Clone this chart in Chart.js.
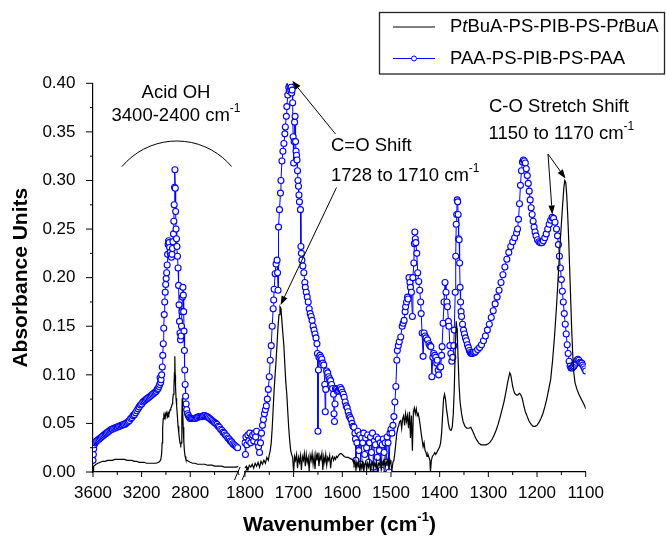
<!DOCTYPE html>
<html><head><meta charset="utf-8">
<script src="https://cdn.jsdelivr.net/npm/chart.js@4.4.1/dist/chart.umd.min.js"></script>
<style>html,body{margin:0;padding:0;background:#fff}canvas{display:block}</style>
</head><body>
<canvas id="c" width="666" height="538"></canvas>
<script>
const FONT = '"Liberation Sans", Arial, sans-serif';

// ---------- data (wavenumber cm-1, absorbance) ----------
const blackLeft = [[3600,0.000],[3597,0.004],[3593,0.006],[3585,0.007],[3575,0.008],[3560,0.009],[3540,0.010],[3520,0.011],[3500,0.011],[3480,0.012],[3460,0.012],[3440,0.012],[3420,0.013],[3400,0.013],[3380,0.013],[3360,0.013],[3340,0.013],[3320,0.012],[3300,0.012],[3280,0.012],[3260,0.011],[3240,0.011],[3220,0.010],[3200,0.010],[3180,0.010],[3160,0.009],[3140,0.009],[3120,0.009],[3100,0.009],[3080,0.009],[3060,0.010],[3050,0.011],[3042,0.013],[3036,0.018],[3031,0.030],[3027,0.045],[3022,0.055],[3017,0.058],[3012,0.056],[3007,0.060],[3002,0.058],[2997,0.061],[2992,0.059],[2987,0.057],[2982,0.061],[2977,0.059],[2972,0.061],[2966,0.064],[2960,0.066],[2954,0.067],[2949,0.070],[2944,0.075],[2939,0.080],[2934,0.088],[2930,0.102],[2927,0.119],[2924,0.100],[2921,0.088],[2917,0.076],[2912,0.068],[2906,0.058],[2900,0.047],[2894,0.040],[2889,0.034],[2884,0.030],[2878,0.028],[2873,0.030],[2869,0.055],[2866,0.076],[2862,0.062],[2858,0.046],[2853,0.032],[2848,0.022],[2842,0.016],[2836,0.013],[2828,0.012],[2815,0.011],[2800,0.010],[2780,0.009],[2760,0.009],[2740,0.008],[2720,0.008],[2700,0.008],[2680,0.008],[2660,0.007],[2640,0.007],[2620,0.007],[2600,0.006],[2580,0.006],[2560,0.006],[2540,0.006],[2520,0.005],[2500,0.005],[2480,0.005],[2460,0.005],[2440,0.005],[2420,0.005],[2405,0.006]];

const blueLeft = [[3600,0.012],[3597,0.018],[3594,0.024],[3590,0.028],[3585,0.030],[3578,0.031],[3570,0.032],[3560,0.033],[3550,0.034],[3540,0.035],[3530,0.036],[3520,0.037],[3510,0.038],[3500,0.039],[3490,0.040],[3480,0.041],[3470,0.042],[3460,0.043],[3450,0.044],[3440,0.044],[3430,0.045],[3420,0.045],[3410,0.046],[3400,0.046],[3390,0.047],[3380,0.047],[3370,0.048],[3360,0.048],[3350,0.049],[3340,0.049],[3330,0.050],[3320,0.051],[3310,0.052],[3300,0.053],[3290,0.055],[3280,0.056],[3270,0.058],[3260,0.059],[3250,0.061],[3240,0.063],[3230,0.065],[3220,0.067],[3210,0.069],[3200,0.070],[3190,0.072],[3180,0.073],[3170,0.074],[3160,0.075],[3150,0.076],[3140,0.077],[3130,0.078],[3120,0.079],[3110,0.080],[3100,0.081],[3090,0.082],[3080,0.083],[3072,0.085],[3065,0.086],[3058,0.088],[3052,0.090],[3048,0.097],[3044,0.092],[3040,0.095],[3035,0.100],[3030,0.108],[3026,0.120],[3022,0.132],[3018,0.148],[3014,0.162],[3010,0.175],[3006,0.185],[3002,0.193],[2998,0.199],[2994,0.205],[2990,0.213],[2986,0.224],[2982,0.234],[2978,0.238],[2974,0.236],[2970,0.231],[2965,0.226],[2960,0.223],[2955,0.221],[2950,0.224],[2946,0.230],[2942,0.237],[2938,0.245],[2935,0.258],[2932,0.275],[2929,0.293],[2926,0.311],[2923,0.292],[2920,0.268],[2917,0.250],[2913,0.240],[2909,0.232],[2905,0.222],[2900,0.210],[2896,0.192],[2892,0.172],[2888,0.155],[2884,0.143],[2880,0.136],[2876,0.140],[2872,0.150],[2868,0.165],[2864,0.180],[2860,0.190],[2857,0.182],[2854,0.165],[2851,0.145],[2848,0.125],[2845,0.105],[2842,0.090],[2838,0.078],[2834,0.070],[2829,0.064],[2822,0.060],[2815,0.058],[2807,0.056],[2800,0.055],[2790,0.055],[2780,0.055],[2770,0.055],[2760,0.055],[2750,0.056],[2740,0.056],[2730,0.057],[2720,0.057],[2710,0.057],[2700,0.057],[2690,0.058],[2680,0.058],[2670,0.057],[2660,0.057],[2650,0.056],[2640,0.055],[2630,0.054],[2620,0.053],[2610,0.052],[2600,0.051],[2590,0.050],[2580,0.049],[2570,0.047],[2560,0.046],[2550,0.044],[2540,0.043],[2530,0.041],[2520,0.040],[2510,0.038],[2500,0.037],[2490,0.035],[2480,0.034],[2470,0.032],[2460,0.031],[2450,0.029],[2440,0.028],[2430,0.027],[2420,0.026],[2410,0.025]];

const blackRight = [[1800,0.004],[1797,0.006],[1794,0.002],[1791,0.007],[1788,0.005],[1785,0.008],[1782,0.004],[1779,0.009],[1776,0.006],[1773,0.010],[1770,0.005],[1767,0.011],[1764,0.008],[1761,0.012],[1758,0.009],[1755,0.015],[1752,0.012],[1750,0.018],[1748,0.022],[1746,0.030],[1744,0.045],[1742,0.065],[1740,0.085],[1738,0.100],[1736,0.115],[1734,0.132],[1732,0.150],[1730,0.162],[1728,0.170],[1726,0.168],[1724,0.155],[1722,0.142],[1720,0.130],[1718,0.110],[1716,0.092],[1714,0.080],[1712,0.062],[1710,0.045],[1708,0.032],[1706,0.022],[1704,0.018],[1702,0.015],[1700,0.000],[1698,0.016],[1696,0.012],[1694,0.018],[1692,0.004],[1690,0.015],[1688,0.010],[1686,0.017],[1684,0.002],[1682,0.016],[1680,0.012],[1678,0.019],[1676,0.006],[1674,0.018],[1672,0.010],[1670,0.015],[1668,0.001],[1666,0.017],[1664,0.012],[1662,0.019],[1660,0.008],[1658,0.016],[1656,0.003],[1654,0.018],[1652,0.012],[1650,0.020],[1648,0.006],[1646,0.017],[1644,0.013],[1642,0.019],[1640,0.002],[1638,0.016],[1636,0.010],[1634,0.018],[1632,0.007],[1630,0.015],[1628,0.012],[1626,0.017],[1624,0.004],[1622,0.014],[1620,0.016],[1618,0.012],[1616,0.015],[1614,0.013],[1612,0.016],[1610,0.015],[1608,0.017],[1606,0.018],[1604,0.019],[1602,0.019],[1600,0.018],[1598,0.017],[1596,0.016],[1592,0.015],[1588,0.015],[1584,0.014],[1580,0.013],[1578,0.012],[1576,0.008],[1574,0.012],[1572,0.002],[1570,0.010],[1568,0.006],[1566,0.011],[1564,0.000],[1562,0.009],[1560,0.004],[1558,0.010],[1556,0.000],[1554,0.008],[1552,0.010],[1550,0.002],[1548,0.009],[1546,0.005],[1544,0.011],[1542,0.000],[1540,0.008],[1538,0.010],[1536,0.003],[1534,0.009],[1532,0.006],[1530,0.011],[1528,0.000],[1526,0.009],[1524,0.007],[1522,0.012],[1520,0.002],[1518,0.010],[1516,0.007],[1514,0.013],[1512,0.004],[1510,0.011],[1508,0.008],[1506,0.014],[1504,0.005],[1502,0.012],[1500,0.008],[1498,0.002],[1496,0.010],[1494,0.012],[1492,0.020],[1490,0.030],[1488,0.040],[1486,0.045],[1484,0.048],[1482,0.052],[1480,0.053],[1478,0.045],[1476,0.055],[1474,0.058],[1472,0.048],[1470,0.060],[1468,0.052],[1466,0.058],[1464,0.045],[1462,0.062],[1460,0.035],[1458,0.058],[1456,0.022],[1454,0.062],[1452,0.066],[1450,0.060],[1448,0.065],[1446,0.058],[1444,0.060],[1442,0.055],[1440,0.048],[1438,0.040],[1436,0.033],[1434,0.026],[1432,0.030],[1430,0.022],[1428,0.020],[1426,0.016],[1424,0.018],[1422,0.015],[1420,0.012],[1419,0.000],[1418,0.000],[1417,0.012],[1415,0.016],[1412,0.018],[1410,0.020],[1408,0.018],[1406,0.020],[1404,0.022],[1402,0.024],[1400,0.026],[1398,0.030],[1396,0.040],[1394,0.058],[1392,0.075],[1390,0.080],[1388,0.075],[1386,0.065],[1384,0.058],[1382,0.050],[1380,0.045],[1378,0.043],[1376,0.043],[1374,0.047],[1372,0.060],[1370,0.085],[1368,0.125],[1366,0.155],[1364,0.145],[1362,0.115],[1360,0.088],[1358,0.072],[1355,0.060],[1352,0.052],[1348,0.047],[1344,0.045],[1340,0.045],[1336,0.046],[1332,0.042],[1328,0.037],[1324,0.033],[1320,0.030],[1315,0.028],[1310,0.028],[1305,0.028],[1300,0.029],[1296,0.031],[1292,0.034],[1288,0.038],[1284,0.043],[1280,0.049],[1276,0.056],[1272,0.064],[1268,0.072],[1264,0.082],[1260,0.093],[1256,0.102],[1254,0.100],[1252,0.094],[1250,0.088],[1248,0.084],[1246,0.081],[1244,0.080],[1242,0.079],[1240,0.079],[1238,0.080],[1236,0.081],[1234,0.080],[1232,0.078],[1230,0.075],[1228,0.070],[1226,0.066],[1224,0.062],[1220,0.057],[1216,0.052],[1212,0.049],[1208,0.047],[1204,0.047],[1200,0.048],[1196,0.051],[1192,0.055],[1188,0.060],[1184,0.067],[1180,0.075],[1176,0.085],[1172,0.095],[1168,0.115],[1164,0.140],[1160,0.170],[1156,0.205],[1152,0.240],[1148,0.270],[1145,0.292],[1143,0.300],[1141,0.298],[1139,0.285],[1137,0.265],[1135,0.240],[1133,0.210],[1131,0.180],[1129,0.150],[1127,0.125],[1125,0.105],[1122,0.092],[1118,0.085],[1114,0.080],[1110,0.076],[1106,0.072],[1102,0.068],[1100,0.065]];

const blueRight = [[1800,0.030],[1799,0.018],[1798,0.036],[1796,0.028],[1794,0.038],[1792,0.032],[1790,0.040],[1788,0.030],[1786,0.036],[1784,0.038],[1782,0.032],[1780,0.040],[1778,0.036],[1776,0.042],[1774,0.030],[1772,0.026],[1770,0.020],[1768,0.030],[1766,0.040],[1764,0.048],[1762,0.054],[1760,0.060],[1758,0.064],[1756,0.068],[1754,0.075],[1752,0.085],[1750,0.098],[1748,0.115],[1746,0.130],[1744,0.150],[1742,0.168],[1741,0.177],[1740,0.188],[1738,0.204],[1736,0.214],[1734,0.218],[1733,0.205],[1732,0.187],[1731,0.252],[1729,0.270],[1727,0.287],[1726,0.300],[1724,0.320],[1722,0.330],[1720,0.338],[1718,0.348],[1717,0.355],[1715,0.366],[1714,0.376],[1712,0.388],[1710,0.396],[1709,0.392],[1708,0.398],[1707,0.400],[1706,0.393],[1705,0.396],[1704,0.390],[1703,0.393],[1702,0.380],[1701,0.345],[1700,0.318],[1699,0.340],[1698,0.360],[1697,0.366],[1696,0.340],[1695,0.330],[1694,0.326],[1693,0.321],[1692,0.310],[1691,0.300],[1690,0.294],[1689,0.285],[1688,0.278],[1686,0.270],[1685,0.232],[1684,0.225],[1683,0.218],[1681,0.212],[1679,0.205],[1677,0.195],[1676,0.190],[1674,0.185],[1672,0.180],[1670,0.175],[1668,0.168],[1666,0.163],[1664,0.160],[1662,0.156],[1660,0.150],[1658,0.146],[1656,0.142],[1654,0.138],[1652,0.132],[1651,0.122],[1650,0.042],[1649,0.105],[1648,0.118],[1646,0.120],[1644,0.118],[1642,0.116],[1640,0.112],[1638,0.110],[1636,0.090],[1635,0.062],[1634,0.085],[1632,0.104],[1630,0.102],[1628,0.098],[1626,0.096],[1624,0.094],[1622,0.090],[1620,0.086],[1618,0.080],[1617,0.060],[1616,0.052],[1615,0.070],[1614,0.086],[1612,0.085],[1610,0.083],[1608,0.084],[1606,0.086],[1604,0.087],[1602,0.085],[1600,0.082],[1598,0.080],[1596,0.077],[1594,0.072],[1592,0.068],[1590,0.066],[1588,0.062],[1586,0.058],[1584,0.056],[1582,0.054],[1580,0.050],[1578,0.047],[1576,0.046],[1574,0.040],[1573,0.034],[1572,0.012],[1570,0.030],[1568,0.042],[1566,0.022],[1564,0.038],[1562,0.008],[1560,0.035],[1558,0.030],[1556,0.040],[1554,0.018],[1552,0.035],[1550,0.025],[1548,0.038],[1546,0.010],[1544,0.030],[1542,0.036],[1540,0.020],[1538,0.040],[1536,0.005],[1534,0.032],[1532,0.028],[1530,0.036],[1528,0.015],[1526,0.034],[1524,0.022],[1522,0.030],[1520,0.002],[1518,0.028],[1516,0.034],[1514,0.020],[1512,0.030],[1510,0.010],[1508,0.036],[1506,0.030],[1504,0.000],[1502,0.040],[1500,0.044],[1498,0.040],[1496,0.048],[1494,0.057],[1492,0.072],[1490,0.088],[1488,0.115],[1487,0.125],[1485,0.130],[1483,0.134],[1480,0.139],[1477,0.150],[1475,0.153],[1473,0.156],[1471,0.165],[1470,0.170],[1468,0.175],[1466,0.180],[1465,0.178],[1463,0.200],[1461,0.195],[1460,0.190],[1458,0.185],[1456,0.160],[1455,0.200],[1453,0.215],[1452,0.235],[1451,0.247],[1450,0.240],[1449,0.236],[1447,0.225],[1445,0.205],[1443,0.196],[1441,0.187],[1439,0.175],[1438,0.163],[1436,0.143],[1434,0.119],[1432,0.143],[1430,0.140],[1428,0.138],[1425,0.136],[1422,0.132],[1420,0.130],[1418,0.129],[1416,0.098],[1414,0.118],[1412,0.122],[1410,0.120],[1408,0.118],[1406,0.112],[1405,0.115],[1403,0.105],[1402,0.100],[1400,0.108],[1398,0.108],[1396,0.120],[1395,0.129],[1393,0.153],[1391,0.175],[1389,0.195],[1387,0.185],[1385,0.175],[1384,0.170],[1382,0.155],[1381,0.150],[1379,0.130],[1377,0.122],[1375,0.114],[1373,0.118],[1371,0.130],[1370,0.146],[1368,0.185],[1367,0.222],[1366,0.255],[1365,0.265],[1364,0.280],[1363,0.278],[1362,0.265],[1361,0.240],[1360,0.239],[1359,0.215],[1358,0.190],[1357,0.175],[1356,0.165],[1355,0.160],[1353,0.152],[1351,0.146],[1349,0.142],[1347,0.138],[1345,0.135],[1343,0.131],[1341,0.128],[1339,0.125],[1337,0.123],[1335,0.122],[1333,0.122],[1331,0.123],[1328,0.123],[1326,0.124],[1322,0.126],[1318,0.128],[1314,0.131],[1310,0.135],[1306,0.140],[1302,0.146],[1298,0.152],[1294,0.159],[1290,0.166],[1286,0.173],[1282,0.180],[1278,0.187],[1274,0.195],[1270,0.203],[1266,0.211],[1262,0.219],[1258,0.226],[1254,0.232],[1250,0.237],[1246,0.241],[1242,0.246],[1240,0.250],[1238,0.260],[1236,0.276],[1234,0.295],[1232,0.310],[1230,0.319],[1228,0.321],[1226,0.320],[1224,0.318],[1222,0.312],[1220,0.305],[1218,0.297],[1216,0.289],[1214,0.280],[1212,0.272],[1210,0.265],[1208,0.258],[1206,0.252],[1204,0.247],[1202,0.243],[1199,0.239],[1196,0.237],[1193,0.236],[1190,0.236],[1187,0.238],[1184,0.241],[1181,0.245],[1178,0.250],[1175,0.255],[1172,0.259],[1169,0.262],[1166,0.261],[1163,0.257],[1160,0.250],[1158,0.243],[1156,0.234],[1154,0.222],[1152,0.210],[1150,0.198],[1148,0.186],[1146,0.175],[1144,0.163],[1142,0.152],[1140,0.142],[1138,0.131],[1136,0.122],[1134,0.114],[1132,0.109],[1130,0.107],[1128,0.107],[1126,0.108],[1124,0.109],[1122,0.111],[1120,0.113],[1118,0.115],[1116,0.116],[1114,0.115],[1112,0.113],[1110,0.112],[1108,0.112],[1106,0.110],[1104,0.108],[1102,0.106],[1100,0.104]];

const yTickValues = [0,0.025,0.05,0.075,0.1,0.125,0.15,0.175,0.2,0.225,0.25,0.275,0.3,0.325,0.35,0.375,0.4];
const leftTickValues = [3600,3400,3200,3000,2800,2600,2400];
const leftTickLabels = [3600,3200,2800];
const rightTickValues = [1800,1750,1700,1650,1600,1550,1500,1450,1400,1350,1300,1250,1200,1150,1100];
const rightTickLabels = [1800,1700,1600,1500,1400,1300,1200,1100];
const seriesNames = ['PtBuA-PS-PIB-PS-PtBuA','PAA-PS-PIB-PS-PAA'];

const toXY = arr => arr.map(p => ({x: p[0], y: p[1]}));
const BLUE = '#0000ff';
const isMajorY = v => Math.abs(v/0.05 - Math.round(v/0.05)) < 1e-6;

function richText(ctx, parts, x, y, align, size, bold) {
  const sup = Math.round(size * 0.64);
  const fonts = parts.map(p => (p.i ? 'italic ' : '') + (bold ? 'bold ' : '') + (p.s ? sup : size) + 'px ' + FONT);
  const w = parts.map((p, k) => { ctx.font = fonts[k]; return ctx.measureText(p.t).width; });
  const total = w.reduce((a, b) => a + b, 0);
  let cx = align === 'center' ? x - total / 2 : x;
  ctx.textAlign = 'left'; ctx.textBaseline = 'middle'; ctx.fillStyle = '#000';
  parts.forEach((p, k) => { ctx.font = fonts[k]; ctx.fillText(p.t, cx, p.s ? y - size * 0.36 : y); cx += w[k]; });
}
function arrow(ctx, x1, y1, x2, y2) {
  const a = Math.atan2(y2 - y1, x2 - x1), L = 9, W = 3.2;
  const bx = x2 - L * Math.cos(a), by = y2 - L * Math.sin(a);
  ctx.beginPath(); ctx.moveTo(x1, y1); ctx.lineTo(bx, by); ctx.stroke();
  ctx.beginPath(); ctx.moveTo(x2, y2);
  ctx.lineTo(bx + W * Math.sin(a), by - W * Math.cos(a));
  ctx.lineTo(bx - W * Math.sin(a), by + W * Math.cos(a));
  ctx.closePath(); ctx.fill();
}

const decor = {
  id: 'decor',
  afterDraw(chart) {
    const ctx = chart.ctx;
    ctx.save();
    ctx.strokeStyle = '#000'; ctx.fillStyle = '#000'; ctx.lineWidth = 1;
    const ys = chart.scales.y;
    ys.ticks.forEach(t => {
      const p = ys.getPixelForValue(t.value);
      const L = isMajorY(t.value) ? 7 : 3;
      ctx.beginPath(); ctx.moveTo(ys.right - L, p); ctx.lineTo(ys.right, p); ctx.stroke();
    });
    [['xL', leftTickLabels], ['xR', rightTickLabels]].forEach(([id, labs]) => {
      const s = chart.scales[id];
      s.ticks.forEach(t => {
        const p = s.getPixelForValue(t.value);
        const L = labs.includes(t.value) ? 5 : 3;
        ctx.beginPath(); ctx.moveTo(p, s.top); ctx.lineTo(p, s.top + L); ctx.stroke();
      });
    });
    const xl = chart.scales.xL, by = xl.top;
    const bx = xl.right;
    ctx.fillStyle = '#fff'; ctx.fillRect(bx - 2.5, by - 2, 5, 4);
    ctx.fillStyle = '#000'; ctx.lineWidth = 1;
    ctx.beginPath(); ctx.moveTo(bx - 7, by + 8); ctx.lineTo(bx - 1.5, by - 5); ctx.stroke();
    ctx.beginPath(); ctx.moveTo(bx + 0.5, by + 8); ctx.lineTo(bx + 6, by - 5); ctx.stroke();

    ctx.lineWidth = 1.3; ctx.strokeStyle = '#222';
    ctx.strokeRect(379.5, 12.5, 285, 61.5);
    ctx.lineWidth = 1.2; ctx.strokeStyle = '#000';
    ctx.beginPath(); ctx.moveTo(393, 27); ctx.lineTo(435, 27); ctx.stroke();
    ctx.strokeStyle = BLUE;
    ctx.beginPath(); ctx.moveTo(393, 58.5); ctx.lineTo(435, 58.5); ctx.stroke();
    ctx.fillStyle = '#fff'; ctx.lineWidth = 1;
    ctx.beginPath(); ctx.arc(414, 58.5, 2.5, 0, Math.PI * 2); ctx.fill(); ctx.stroke();
    richText(ctx, [{t:'P'},{t:'t',i:1},{t:'BuA-PS-PIB-PS-P'},{t:'t',i:1},{t:'BuA'}], 450, 27, 'left', 18.5);
    richText(ctx, [{t:seriesNames[1]}], 450, 58.5, 'left', 18.5);

    ctx.strokeStyle = '#000'; ctx.fillStyle = '#000'; ctx.lineWidth = 1;
    richText(ctx, [{t:'Acid OH'}], 176, 92.5, 'center', 18.5);
    richText(ctx, [{t:'3400-2400 cm'},{t:'-1',s:1}], 176, 115.5, 'center', 18.5);
    const R = 71.5, acx = 176.8, acy = 212.5;
    ctx.beginPath(); ctx.arc(acx, acy, R, -140 * Math.PI / 180, -40 * Math.PI / 180); ctx.stroke();

    richText(ctx, [{t:'C=O Shift'}], 331, 146, 'left', 18.5);
    richText(ctx, [{t:'1728 to 1710 cm'},{t:'-1',s:1}], 331, 175.5, 'left', 18.5);
    ctx.fillStyle = '#000';
    arrow(ctx, 335.5, 134, 292.3, 80.8);
    arrow(ctx, 336.5, 187.5, 280.6, 305);

    richText(ctx, [{t:'C-O Stretch Shift'}], 489, 107, 'left', 18.5);
    richText(ctx, [{t:'1150 to 1170 cm'},{t:'-1',s:1}], 488.5, 133.5, 'left', 18.5);
    ctx.fillStyle = '#000';
    arrow(ctx, 548, 154, 552.3, 214.5);
    arrow(ctx, 548, 154, 565.5, 178.5);

    richText(ctx, [{t:'Wavenumber (cm'},{t:'-1',s:1},{t:')'}], 339.5, 525, 'center', 21, true);
    ctx.save();
    ctx.translate(21, 277.7); ctx.rotate(-Math.PI / 2);
    richText(ctx, [{t:'Absorbance Units'}], 0, 0, 'center', 21, true);
    ctx.restore();
    ctx.restore();
  }
};

const tickFont = {family: FONT, size: 17};
const xCommon = {
  type: 'linear', position: 'bottom', stack: 'wn', reverse: true,
  grid: {display: true, drawOnChartArea: false, color: 'rgba(0,0,0,0)', tickLength: 5},
  border: {display: true, color: '#000', width: 1.2},
  afterFit: s => { s.height = 66; }
};
const blueStyle = {borderColor: BLUE, borderWidth: 1, pointRadius: 3, pointBorderWidth: 1.1, pointBorderColor: BLUE, pointBackgroundColor: '#fff'};

new Chart(document.getElementById('c'), {
  type: 'line',
  data: {
    datasets: [
      {label: seriesNames[0], data: toXY(blackLeft), xAxisID: 'xL', borderColor: '#000', borderWidth: 1.2, pointRadius: 0},
      {label: seriesNames[0], data: toXY(blackRight), xAxisID: 'xR', borderColor: '#000', borderWidth: 1.2, pointRadius: 0},
      Object.assign({label: seriesNames[1], data: toXY(blueLeft), xAxisID: 'xL'}, blueStyle),
      Object.assign({label: seriesNames[1], data: toXY(blueRight), xAxisID: 'xR'}, blueStyle)
    ]
  },
  options: {
    responsive: false, animation: false, events: [], devicePixelRatio: 1,
    layout: {padding: {left: 0, right: 80.3, top: 83.3, bottom: 0}},
    elements: {line: {tension: 0}},
    plugins: {legend: {display: false}, tooltip: {enabled: false}},
    scales: {
      xL: Object.assign({}, xCommon, {
        min: 2378, max: 3600, stackWeight: 148.2,
        afterBuildTicks: s => { s.ticks = leftTickValues.map(v => ({value: v})); },
        ticks: {autoSkip: false, maxRotation: 0, minRotation: 0, padding: 6, color: '#000', font: tickFont,
          callback: v => leftTickLabels.includes(v) ? String(v) : ''}
      }),
      xR: Object.assign({}, xCommon, {
        min: 1100, max: 1807, stackWeight: 343.4,
        afterBuildTicks: s => { s.ticks = rightTickValues.map(v => ({value: v})); },
        ticks: {autoSkip: false, maxRotation: 0, minRotation: 0, padding: 6, color: '#000', font: tickFont,
          callback: v => rightTickLabels.includes(v) ? String(v) : ''}
      }),
      y: {
        type: 'linear', position: 'left', min: 0, max: 0.4,
        afterBuildTicks: s => { s.ticks = yTickValues.map(v => ({value: v})); },
        ticks: {autoSkip: false, padding: 10.5, color: '#000', font: tickFont,
          callback: v => isMajorY(v) ? v.toFixed(2) : ''},
        grid: {display: true, drawOnChartArea: false, color: 'rgba(0,0,0,0)', tickLength: 7},
        border: {display: true, color: '#000', width: 1.2},
        afterFit: s => { s.width = 93; }
      }
    }
  },
  plugins: [decor]
});
</script>
</body></html>
